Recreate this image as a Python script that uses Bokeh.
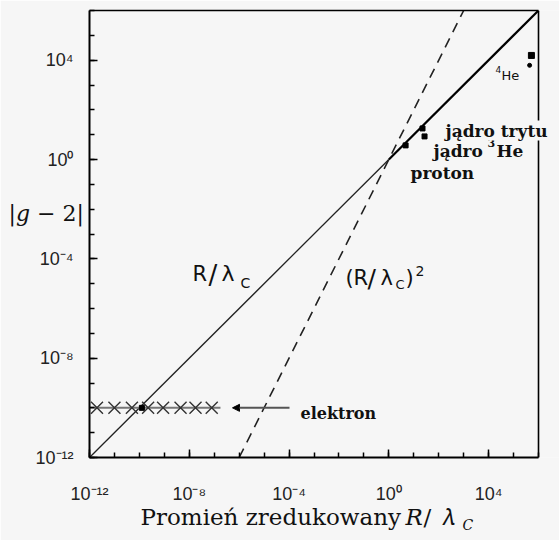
import numpy as np
from bokeh.plotting import figure
from bokeh.models import (FixedTicker, Label, Arrow, NormalHead, Span, LogAxis,
                          CustomJSTickFormatter, Title)
from bokeh.embed import file_html
from bokeh.resources import INLINE

# ---- data -------------------------------------------------------------
major_exp = [-12, -8, -4, 0, 4]
minor_exp = list(range(-12, 7))
axis_lo, axis_hi = 1e-12, 1e6

lin_x = [1e-12, 1e0, 1e6]
sq_x = [1e-6, 1e3]

proton_x, proton_y = [4.7], [3.7]
tryt_x, tryt_y = [22.4], [17.8]
he3_x, he3_y = [27.0], [8.5]
he4_x, he4_y = [5.2e5, 4.4e5], [1.55e4, 6.2e3]

electron_x = [10**-11.7, 10**-11.0, 10**-10.3, 10**-9.65,
              10**-9.05, 10**-8.35, 10**-7.75, 10**-7.1]
electron_y = [1e-10] * len(electron_x)
electron_dot_x, electron_dot_y = [10**-9.9], [1e-10]
electron_band_x = [1e-12, 10**-6.75]

BG = "#f6f6f6"

# ---- figure -----------------------------------------------------------
W, H = 559, 540
L, T, B = 89, 10, 83
BOX_R = 538                       # right edge of the drawn box
DEC = (BOX_R - L) / 18.0          # pixels per decade
x_end = 10 ** (6 + (W - BOX_R) / DEC)

p = figure(width=W, height=H, x_axis_type="log", y_axis_type="log",
           x_range=(1e-12, x_end), y_range=(1e-12, 1e6),
           output_backend="svg", toolbar_location=None,
           min_border_left=L, min_border_right=0,
           min_border_top=T, min_border_bottom=B)
p.background_fill_color = BG
p.border_fill_color = BG
p.outline_line_color = None
p.grid.visible = False

fh = H - T - B
def lx(px):
    return 10 ** ((px - L) / DEC - 12)
def ly(py):
    return 10 ** ((H - B - py) / fh * 18 - 12)

fmt = CustomJSTickFormatter(code="""
const e = Math.round(Math.log10(tick));
const s = {"-":"\u207b","0":"\u2070","1":"\u00b9","2":"\u00b2","3":"\u00b3",
           "4":"\u2074","5":"\u2075","6":"\u2076","7":"\u2077","8":"\u2078","9":"\u2079"};
return "10" + String(e).split("").map(c => s[c]).join("");
""")
for ax in (p.xaxis[0], p.yaxis[0]):
    ax.ticker = FixedTicker(ticks=[10.0**e for e in major_exp],
                            minor_ticks=[10.0**e for e in minor_exp])
    ax.formatter = fmt
    ax.axis_line_width = 2
    ax.major_tick_in = 8
    ax.major_tick_out = 0
    ax.minor_tick_in = 5
    ax.minor_tick_out = 0
    ax.major_tick_line_width = 1.5
    ax.minor_tick_line_width = 1.5
    ax.major_label_text_font = "Liberation Sans"
    ax.major_label_text_font_size = "18px"
    ax.major_label_text_color = "#222222"
p.xaxis.bounds = (axis_lo, axis_hi)
p.xaxis.major_label_standoff = 26
p.yaxis.major_label_standoff = 16

# top edge of the box
top = LogAxis(ticker=FixedTicker(ticks=[]), bounds=(axis_lo, axis_hi),
              major_label_text_font_size="0px", axis_line_width=1.6,
              major_tick_line_color=None, minor_tick_line_color=None)
p.add_layout(top, "above")
# right edge of the box
p.add_layout(Span(location=axis_hi, dimension="height", line_color="black",
                  line_width=1.6))

# ---- curves -----------------------------------------------------------
p.line(lin_x[:2], lin_x[:2], line_color="#222222", line_width=1.3)
p.line(lin_x[1:], lin_x[1:], line_color="black", line_width=2.2)
p.line(sq_x, [v * v for v in sq_x], line_color="#222222", line_width=1.6,
       line_dash="10 7")

# ---- electron ---------------------------------------------------------
p.line(electron_band_x, [electron_y[0]] * 2, line_color="#777777", line_width=2)
p.scatter(electron_x, electron_y, marker="x", size=17, line_color="#333333",
          line_width=1.4)
p.scatter(electron_dot_x, electron_dot_y, marker="square", size=5, color="black")
p.add_layout(Arrow(end=NormalHead(size=7, fill_color="black", line_color="black"),
                   x_start=lx(289), y_start=electron_y[0],
                   x_end=lx(232), y_end=electron_y[0],
                   line_color="#555555", line_width=2))

# ---- nuclei -----------------------------------------------------------
p.scatter(proton_x, proton_y, marker="square", size=5, color="black")
p.scatter(tryt_x, tryt_y, marker="square", size=5, color="black")
p.scatter(he3_x, he3_y, marker="square", size=5, color="black")
p.scatter(he4_x[:1], he4_y[:1], marker="square", size=6, color="black")
p.scatter(he4_x[1:], he4_y[1:], marker="circle", size=4, color="black")

# ---- texts ------------------------------------------------------------
SERIF = "DejaVu Serif"
SANS = "DejaVu Sans"

def put(px, py, text, font=SERIF, size=18, style="normal",
        bg=None, color="#111111", place=None):
    lab = Label(x=lx(px), y=ly(py), text=text, text_font=font,
                text_font_size=f"{size}px", text_font_style=style,
                text_align="left", text_baseline="alphabetic",
                text_color=color, background_fill_color=bg)
    if place is None:
        p.add_layout(lab)
    else:
        p.add_layout(lab, place)

# curve names
put(192, 273, "R", font=SANS, size=21)
put(208, 274, "/", font=SANS, size=26)
put(221, 273, "λ", font=SANS, size=22)
put(240, 282, "C", font=SANS, size=14)
put(345, 277, "(", font=SANS, size=21)
put(353, 277, "R", font=SANS, size=21)
put(367, 278, "/", font=SANS, size=25)
put(380, 277, "λ", font=SANS, size=21)
put(395, 284, "C", font=SANS, size=13)
put(405, 277, ")", font=SANS, size=21)
put(415, 270, "2", font=SANS, size=14)

# particle names
put(300, 413, "elektron", size=16, style="bold")
put(410, 172, "proton", size=17, style="bold")
put(433, 150, "jądro", size=17, style="bold")
put(487, 142, "3", size=11, style="bold")
put(496, 150, "He", size=17, style="bold")
put(445, 130, "jądro trytu", size=17, style="bold", bg=BG)
put(495, 69, "4", font=SANS, size=9)
put(501, 75, "He", font=SANS, size=13)

# y title (in the lower side panel so the frame does not clip it)
put(8, 213, "|𝑔 − 2|", size=22, place="below")

# x title, laid out as zero-height panel titles
def title_piece(text, left, size, standoff):
    p.add_layout(Title(text=text, text_font=SERIF, text_font_size=f"{size}px",
                       text_font_style="normal", align="left", offset=left - L,
                       vertical_align="top", standoff=standoff,
                       text_color="#111111"), "below")

title_piece("𝐶", 462, 14, -29)
title_piece("Promień zredukowany", 140, 23, -55)
title_piece("𝑅", 405, 23, -55)
title_piece("/", 423, 23, -55)
title_piece("𝜆", 441, 23, -55)

open("out.html", "w").write(file_html(p, INLINE))
